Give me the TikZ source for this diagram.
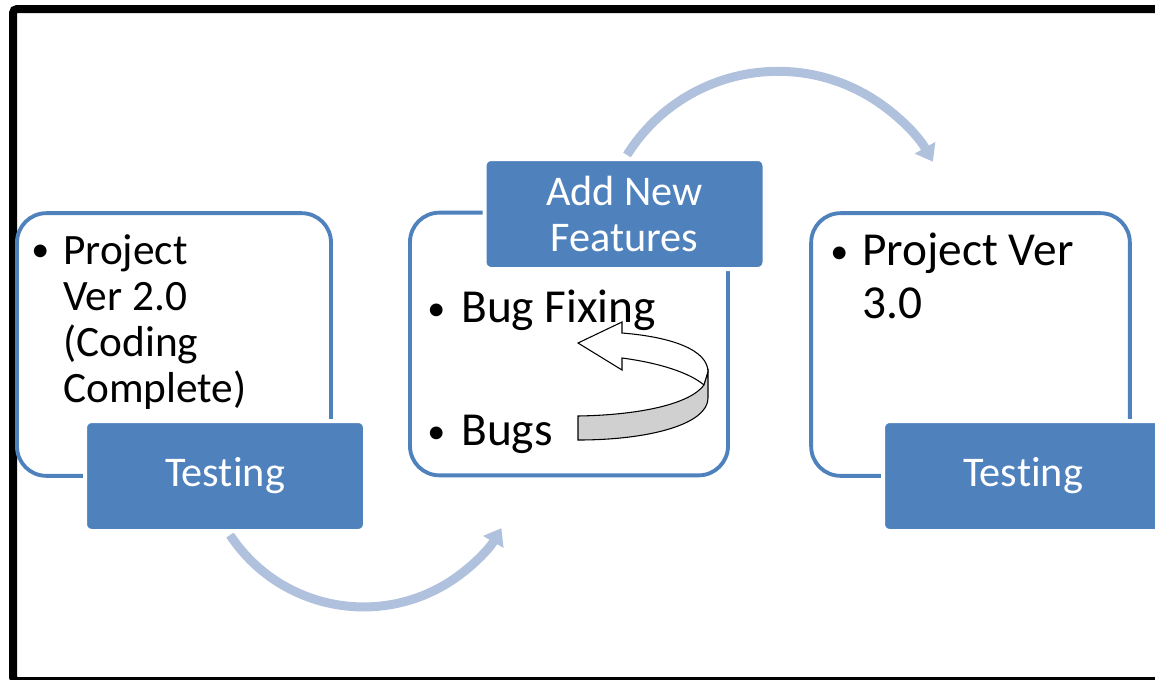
\documentclass[tikz,border=0pt]{standalone}
\usepackage{fontspec}
\setmainfont{Carlito}[Ligatures=NoCommon]
\usetikzlibrary{arrows.meta}
\definecolor{stageline}{HTML}{4F81BD}
\definecolor{stagefill}{HTML}{4F81BD}
\definecolor{arrowblue}{HTML}{B0C1DD}
\definecolor{ribbongray}{HTML}{D0D0D0}
\tikzset{
  stagebox/.style={draw=stageline, line width=2.9pt, rounded corners=22pt,
                   inner sep=0pt, minimum height=197pt},
  stagelabel/.style={fill=stagefill, draw=white, line width=3pt, rounded corners=5pt,
                     text=white, align=center, minimum width=210pt, minimum height=82.5pt,
                     font=\fontsize{31.7}{34}\selectfont, inner sep=0pt},
  itemtext/.style={anchor=base west, inner sep=0pt, align=left,
                   font=\fontsize{35.5}{39.75}\selectfont},
  smalltext/.style={itemtext, font=\fontsize{32.5}{34.5}\selectfont},
  itemdot/.style={anchor=base west, inner sep=0pt, font=\fontsize{27}{27}\selectfont},
  cyclearrow/.style={draw=arrowblue, line width=6.75pt,
                     -{Triangle[width=17pt, length=12pt]}},
  ribbon/.style={draw=black, line width=0.8pt, line join=miter},
}

\begin{document}
\begin{tikzpicture}[x=0.75pt, y=-0.75pt]
    \useasboundingbox (0,0) rectangle (1155,679);
    \clip (0,0) rectangle (1155,679);
    \draw[line width=6pt, rounded corners=3pt] (13,9) rectangle (1175,681);
    \node[stagebox, minimum width=235.5pt] (oldver) at (174,344.5) {};
    \node[stagebox, minimum width=238.5pt] (work) at (569,344) {};
    \node[stagebox, minimum width=239pt] (newver) at (970.5,344.5) {};
    \coordinate (lowstart) at (230,535);
    \coordinate (topstart) at (627,155);
    \draw[cyclearrow] (lowstart) arc[start angle=213.4, end angle=329.5, radius=120pt];
    \draw[cyclearrow] (topstart) arc[start angle=148, end angle=29.5, radius=133.5pt];
    \node[stagelabel] (test1) at (225,476) {Testing};
    \node[stagelabel] (addnew) at (624.5,214) {Add New\\Features};
    \node[stagelabel] (test2) at (1023,476) {Testing};
    \draw[ribbon, fill=white] (708,372) .. controls (708,350) and (672,337) .. (622,333)
      -- (622,322) -- (578,343) -- (622,370) -- (622,358)
      .. controls (660,363) and (690,373) .. (704,385) -- cycle;
    \draw[ribbon, fill=ribbongray] (578,416) .. controls (640,415) and (690,404) .. (704,385)
      -- (708,372) -- (708,398) .. controls (708,424) and (650,440) .. (578,440) -- cycle;
    \node[itemdot] (dot1) at (31,261) {\textbullet};
    \node[smalltext] (oldtext) at (63,402) {Project\\Ver 2.0\\(Coding\\Complete)};
    \node[itemdot] (dot2) at (427,320) {\textbullet};
    \node[itemtext] (fixtext) at (461,322) {Bug Fixing};
    \node[itemdot] (dot3) at (427,443) {\textbullet};
    \node[itemtext] (bugtext) at (461,445) {Bugs};
    \node[itemdot] (dot4) at (830,263) {\textbullet};
    \node[itemtext] (newtext) at (862,318) {Project Ver\\3.0};
  \end{tikzpicture}
\end{document}
